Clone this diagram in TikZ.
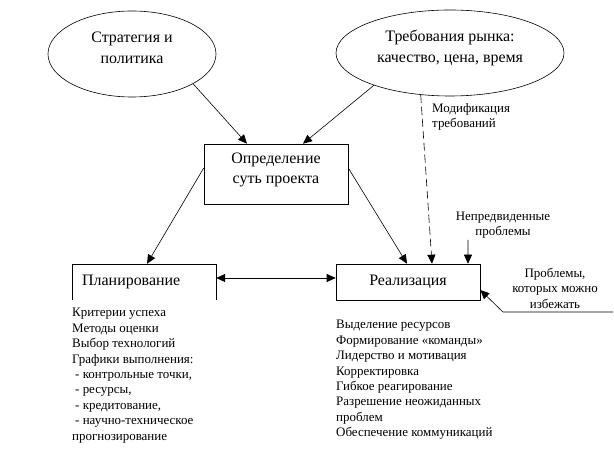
\documentclass[tikz,border=0pt]{standalone}
\usepackage{fontspec}
\setmainfont{Liberation Serif}
\usetikzlibrary{shapes.geometric,arrows.meta,calc}
\begin{document}
\begin{tikzpicture}[x=1bp,y=-1bp,
  big/.style={font=\fontsize{16}{21}\selectfont, align=center, inner sep=0},
  small/.style={font=\fontsize{13}{15.5}\selectfont, inner sep=0},
  listtext/.style={font=\fontsize{13}{15.5}\selectfont, inner sep=0, align=left, anchor=north west},
  arr/.style={-{Triangle[length=9bp,width=8bp]}, line width=0.6bp},
  ln/.style={line width=0.6bp},
  oval/.style={ellipse, draw, line width=0.6bp, inner sep=0},
  box/.style={draw, line width=0.6bp, inner sep=0}]
\useasboundingbox (0,0) rectangle (614,458);
\fill[white] (0,0) rectangle (614,458);
% ellipses
\node[oval, minimum width=168bp, minimum height=86bp] (e1) at (132,54) {};
\node[big] (e1t) at (132,48) {Стратегия и\\политика};
\node[oval, minimum width=228bp, minimum height=86bp] (e2) at (450,53) {};
\node[big] (e2t) at (450,48) {Требования рынка:\\качество, цена, время};
% definition box
\node[box, minimum width=144bp, minimum height=60bp] (def) at (276,174) {};
\node[big, font=\fontsize{16}{20}\selectfont] (deft) at (276,170) {Определение\\суть проекта};
% planning box (open at bottom)
\node[inner sep=0, minimum width=144bp, minimum height=36bp] (plan) at (144,282) {};
\draw[ln] (plan.south west) -- (plan.north west) -- (plan.north east) -- (plan.south east);
\node[big, anchor=west] (plant) at (82,282) {Планирование};
% realization box
\node[box, minimum width=144bp, minimum height=36bp] (real) at (408,282) {};
\node[big] (realt) at (408,282) {Реализация};
% connectors
\draw[arr] (e1.-26) -- ([xshift=-29bp]def.north);
\draw[arr] (e2.203) -- ([xshift=27bp]def.north);
\draw[arr] ([yshift=6bp]def.west) -- ([xshift=3bp]plan.north);
\draw[arr] ([yshift=6bp]def.east) -- ([xshift=-1bp]real.north);
\draw[{Triangle[length=9bp,width=8bp]}-{Triangle[length=9bp,width=8bp]}, line width=0.6bp] ([yshift=4bp]plan.east) -- ([yshift=4bp]real.west);
\draw[arr, dash pattern=on 8bp off 4bp] (e2.235) -- ([xshift=24bp]real.north);
% side texts
\node[small, align=left, anchor=north west] (mod) at (432,103) {Модификация\\требований};
\node[small, align=center] (np) at (503,225) {Непредвиденные\\проблемы};
\coordinate (npa) at (468,240);
\draw[arr] (npa) -- ([xshift=60bp]real.north);
\node[small, align=center] (av) at (555,288) {Проблемы,\\которых можно\\избежать};
\coordinate (ava) at (613,312);
\coordinate (avb) at (503,312);
\draw[arr] (ava) -- (avb) -- ([yshift=-8bp]real.east);
% lists
\node[listtext] (pl) at (72,308) {Критерии успеха\\Методы оценки\\Выбор технологий\\Графики выполнения:\\\hspace{3bp}- контрольные точки,\\\hspace{3bp}- ресурсы,\\\hspace{3bp}- кредитование,\\\hspace{3bp}- научно-техническое\\прогнозирование};
\node[listtext] (rl) at (336,320) {Выделение ресурсов\\Формирование «команды»\\Лидерство и мотивация\\Корректировка\\Гибкое реагирование\\Разрешение неожиданных\\проблем\\Обеспечение коммуникаций};
\end{tikzpicture}
\end{document}
